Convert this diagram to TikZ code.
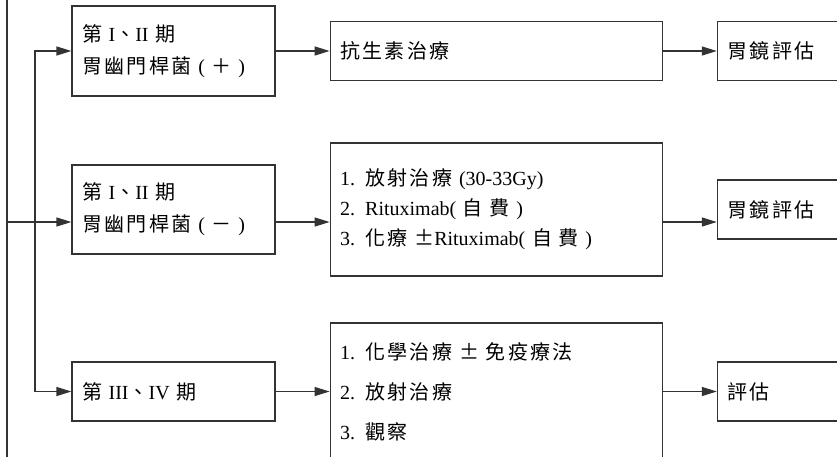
\documentclass[tikz,border=0pt]{standalone}
\usepackage{fontspec}
\setmainfont{Liberation Serif}
\newfontfamily\cjk[LetterSpace=12]{Noto Sans CJK TC}
\newcommand{\zh}[1]{{\cjk #1}}
\newcommand{\pmwide}{\makebox[20pt]{\zh{±}}}
\usetikzlibrary {arrows.meta,positioning}

\begin{document}
\begin{tikzpicture}[x=1pt,y=-1pt,node distance= 54pt,
    box/.style={draw= black!80, line width=1.2pt, align=left, inner xsep=10pt,
      font=\fontsize{20}{32}\selectfont},
    stage/.style={box, text width=183pt},
    therapy/.style={box, text width=312pt},
    check/.style={box, text width=130pt, minimum height=59pt},
    arr/.style={draw= black!80, line width=1.2pt, -{Triangle[length=15pt,width=9pt]}}]
      \clip (0,0) rectangle (837,456);
      \node (b1) [stage, minimum height=90pt] at (173.5,51) {\zh{第} I\zh{、}II \zh{期}\\\zh{胃幽門桿菌} ( \zh{＋} )};
      \node (a1) [therapy, minimum height=59pt, right= of b1] {\zh{抗生素治療}};
      \node (e1) [check, right= of a1] {\zh{胃鏡評估}};
      \node (b2) [stage, minimum height=89pt] at (173.5,209.5) {\zh{第} I\zh{、}II \zh{期}\\\zh{胃幽門桿菌} ( \zh{－} )};
      \node (c2) [therapy, minimum height=133pt, right= of b2, font=\fontsize{20}{30}\selectfont]
        {1. \zh{放射治療} (30-33Gy)\\2. Rituximab( \zh{自 費} )\\3. \zh{化療} \pmwide Rituximab( \zh{自 費} )};
      \node (e2) [check, right= of c2] {\zh{胃鏡評估}};
      \node (b3) [stage, minimum height=59pt] at (173.5,391.5) {\zh{第} III\zh{、}IV \zh{期}};
      \node (c3) [therapy, minimum height=137pt, right= of b3, font=\fontsize{20}{40}\selectfont]
        {1. \zh{化學治療} \pmwide\ \zh{免疫療法}\\2. \zh{放射治療}\\3. \zh{觀察}};
      \node (e3) [check, right= of c3] {\zh{評估}};
      \coordinate (top) at (7,-10);
      \coordinate (bot) at (7,470);
      \coordinate (r2) at (7,222);
      \coordinate (inner) at (35,222);
      \draw[arr] (b1) -- (a1);
      \draw[arr] (a1) -- (e1);
      \draw[arr] (r2) -- (r2 -| b2.west);
      \draw[arr] (r2 -| b2.east) -- (r2 -| c2.west);
      \draw[arr] (r2 -| c2.east) -- (r2 -| e2.west);
      \draw[arr] (b3) -- (c3);
      \draw[arr] (c3) -- (e3);
      \draw[draw= black!80, line width=1.2pt] (top) -- (bot);
      \draw[arr, {Triangle[length=15pt,width=9pt]}-{Triangle[length=15pt,width=9pt]}] (b1.west) -| (inner) |- (b3.west);
    \end{tikzpicture}
\end{document}
